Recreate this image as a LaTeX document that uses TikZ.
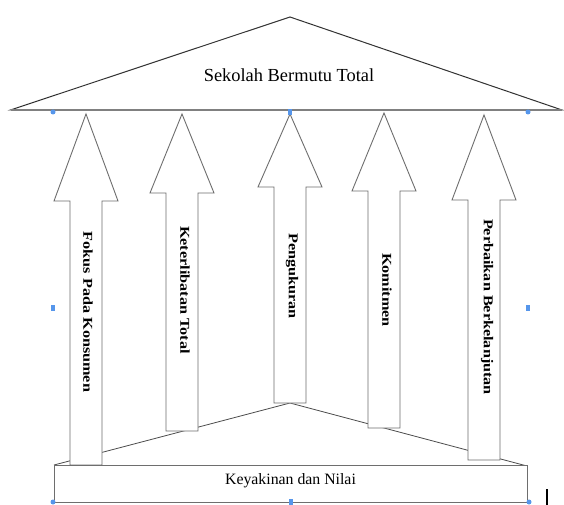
\documentclass[tikz,border=0pt]{standalone}
\usepackage{fontspec}
\setmainfont{Liberation Serif}
\usepackage{graphicx}
\definecolor{handleblue}{RGB}{86,150,235}
\definecolor{roofline}{RGB}{50,50,50}
\definecolor{edgegray}{RGB}{110,110,110}
\tikzset{
  roofshape/.style={draw=roofline, line width=1pt, fill=white, line join=miter},
  roofbase/.style={draw=black!50, line width=1.8pt},
  pillar/.style={draw=edgegray, line width=0.9pt, fill=white, line join=miter},
  floorline/.style={draw=black!70, line width=0.8pt},
  baserect/.style={draw=edgegray, line width=1pt, fill=white},
  vlabel/.style={rotate=-90, inner sep=0pt, font=\bfseries\fontsize{13.5}{14}\selectfont},
  hlabel/.style={inner sep=0pt, anchor=base},
  handlesq/.style={fill=handleblue, draw=none, minimum width=4.5pt, minimum height=6pt, inner sep=0pt},
  handlecirc/.style={fill=handleblue, draw=none, circle, minimum size=5pt, inner sep=0pt},
}
% tip x, tip y, head base y, bottom y
\newcommand\pillararrow[4]{%
  \path[pillar] (#1,#2) -- (#1+32,#3) -- (#1+16,#3) -- (#1+16,#4) -- (#1-16,#4) -- (#1-16,#3) -- (#1-32,#3) -- cycle;}
\begin{document}
\begin{tikzpicture}[x=1pt,y=-1pt]
\useasboundingbox (0,0) rectangle (564,505);
\fill[white] (0,0) rectangle (564,505);
% floor lines
\coordinate (fl) at (54,465);
\coordinate (fm) at (290,403);
\coordinate (fr) at (527,466);
\draw[floorline] (fl) -- (fm) -- (fr);
% pillars
\pillararrow{86}{114}{201}{465}
\pillararrow{182}{114}{193}{431}
\pillararrow{290}{114}{187}{403}
\pillararrow{384}{113}{191}{428}
\pillararrow{484}{115}{200}{460}
\node[vlabel] (p1) at (88,312) {\scalebox{1.2}[1]{Fokus Pada Konsumen}};
\node[vlabel] (p2) at (185,290) {\scalebox{1.2}[1]{Keterlibatan Total}};
\node[vlabel] (p3) at (292,276) {\scalebox{1.2}[1]{Pengukuran}};
\node[vlabel] (p4) at (387,290) {\scalebox{1.2}[1]{Komitmen}};
\node[vlabel] (p5) at (487,307) {\scalebox{1.2}[1]{Perbaikan Berkelanjutan}};
% base
\path[baserect] (54,465) rectangle (527,502);
\node[hlabel, font=\fontsize{15.8}{16}\selectfont] (base) at (290.5,484) {Keyakinan dan Nilai};
% roof
\path[roofshape] (10.5,110) -- (290,17) -- (562,110) -- cycle;
\draw[roofbase] (10.5,110) -- (562,110);
\node[hlabel, font=\fontsize{18.4}{19}\selectfont] (roof) at (289,81.5) {Sekolah Bermutu Total};
% selection handles
\node[handlecirc] (h1) at (53,112) {};
\node[handlesq] (h2) at (290,112) {};
\node[handlecirc] (h3) at (528,112) {};
\node[handlesq] (h4) at (53,308) {};
\node[handlesq] (h5) at (528,308) {};
\node[handlecirc] (h6) at (53,502) {};
\node[handlesq] (h7) at (291,502) {};
\node[handlecirc] (h8) at (529,502) {};
% text cursor
\draw[black, line width=1.6pt] (547,489) -- (547,505);
\end{tikzpicture}
\end{document}
